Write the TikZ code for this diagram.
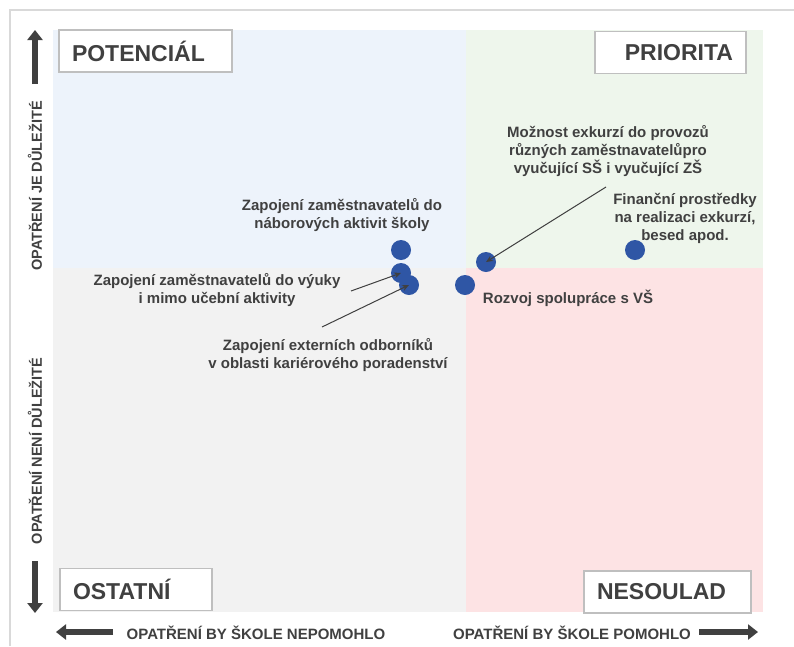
\documentclass[tikz,border=0pt]{standalone}
\usepackage{fontspec}
\setmainfont{Liberation Sans}
\usetikzlibrary{arrows.meta}
\definecolor{txt}{HTML}{404040}
\definecolor{qblue}{HTML}{EDF3FB}
\definecolor{qgreen}{HTML}{EEF6EC}
\definecolor{qgray}{HTML}{F2F2F2}
\definecolor{qpink}{HTML}{FDE3E4}
\definecolor{dotblue}{HTML}{2F56A5}
\definecolor{frame}{HTML}{D9D9D9}
\definecolor{boxline}{HTML}{BFBFBF}
\tikzset{
  qlabel/.style={draw=boxline, line width=1.2pt, fill=white, text=txt,
    font=\fontsize{23}{26}\selectfont\bfseries, minimum height=42pt,
    inner xsep=13pt, inner ysep=0pt},
  dot/.style={circle, fill=dotblue, minimum size=20pt, inner sep=0pt},
  lbl/.style={text=txt, font=\fontsize{15}{18}\selectfont\bfseries, align=center, inner sep=0pt},
  axlbl/.style={text=txt, font=\fontsize{15}{18}\selectfont\bfseries, inner sep=0pt},
  blockarrow/.style={draw=txt, line width=6.5pt, -{Triangle[width=15pt,length=10pt]}},
  leader/.style={draw=txt, line width=1pt, -{Stealth[length=7pt,width=6pt]}}
}
\begin{document}
\begin{tikzpicture}[x=1pt,y=-1pt]
\useasboundingbox (0,0) rectangle (794,646);
\fill[white] (0,0) rectangle (794,646);
% frame
\draw[frame, line width=1.5pt] (10,646) -- (10,10) -- (794,10);
% quadrants
\fill[qblue] (53,30) rectangle (466,268);
\fill[qgreen] (466,30) rectangle (763,268);
\fill[qgray] (53,268) rectangle (466,612);
\fill[qpink] (466,268) rectangle (763,612);
% quadrant labels
\node[qlabel, minimum width=173pt, text width=147pt, align=left] (pot) at (145.5,51) {POTENCIÁL};
\node[qlabel, minimum width=151pt, text width=125pt, align=right] (pri) at (670.5,52.5) {PRIORITA};
\node[qlabel, minimum width=152pt, text width=126pt, align=left] (ost) at (136,589.5) {OSTATNÍ};
\node[qlabel, minimum width=167pt, text width=141pt, align=left] (nes) at (667.5,592) {NESOULAD};
% vertical axis
\coordinate (ua0) at (35,84);
\coordinate (ua1) at (35,30);
\draw[blockarrow] (ua0) -- (ua1);
\coordinate (da0) at (35,561);
\coordinate (da1) at (35,613);
\draw[blockarrow] (da0) -- (da1);
\node[axlbl, font=\fontsize{14.5}{17}\selectfont\bfseries, rotate=90] (vimp) at (35,186) {OPATŘENÍ JE DŮLEŽITÉ};
\node[axlbl, font=\fontsize{14.5}{17}\selectfont\bfseries, rotate=90] (vnot) at (35,451) {OPATŘENÍ NENÍ DŮLEŽITÉ};
% horizontal axis
\coordinate (la0) at (113,632);
\coordinate (la1) at (56,632);
\draw[blockarrow] (la0) -- (la1);
\coordinate (ra0) at (699,632);
\coordinate (ra1) at (758,632);
\draw[blockarrow] (ra0) -- (ra1);
\node[axlbl] (hno) at (256,633) {OPATŘENÍ BY ŠKOLE NEPOMOHLO};
\node[axlbl] (hyes) at (572,633) {OPATŘENÍ BY ŠKOLE POMOHLO};
% dots
\node[dot] (d1) at (401,250) {};
\node[dot] (d2) at (401,273) {};
\node[dot] (d3) at (409,285) {};
\node[dot] (d4) at (465,285) {};
\node[dot] (d5) at (486,262) {};
\node[dot] (d6) at (635,250) {};
% labels
\node[lbl] (l1) at (342,215) {Zapojení zaměstnavatelů do\\náborových aktivit školy};
\node[lbl] (l2) at (217,290) {Zapojení zaměstnavatelů do výuky\\i mimo učební aktivity};
\node[lbl] (l3) at (328,355) {Zapojení externích odborníků\\v oblasti kariérového poradenství};
\node[lbl] (l5) at (608,151) {Možnost exkurzí do provozů\\různých zaměstnavatelůpro\\vyučující SŠ i vyučující ZŠ};
\node[lbl] (l6) at (685,218) {Finanční prostředky\\na realizaci exkurzí,\\besed apod.};
\node[lbl] (l4) at (568,298) {Rozvoj spolupráce s VŠ};
% leaders
\coordinate (s2) at (351,291);
\coordinate (s3) at (322,327);
\coordinate (s5) at (606,187);
\draw[leader] (s2) -- (d2.center);
\draw[leader] (s3) -- (d3.center);
\draw[leader] (s5) -- (d5.center);
\end{tikzpicture}
\end{document}
